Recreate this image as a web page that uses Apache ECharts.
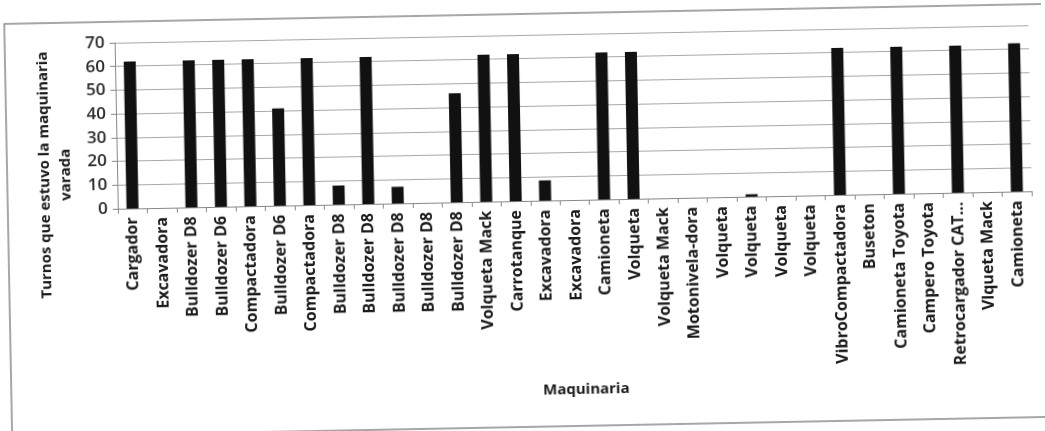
<!DOCTYPE html>
<html>
<head>
<meta charset="utf-8">
<script src="https://cdn.jsdelivr.net/npm/echarts@6/dist/echarts.min.js"></script>
<style>
html,body{margin:0;padding:0;background:#fff;overflow:hidden;}
#chart{width:1045px;height:431px;transform:rotate(-1.1deg);transform-origin:522px 215px;}
</style>
</head>
<body>
<div id="chart"></div>
<script>
const categories = [
  'Cargador','Excavadora','Bulldozer D8','Bulldozer D6','Compactadora','Bulldozer D6',
  'Compactadora','Bulldozer D8','Bulldozer D8','Bulldozer D8','Bulldozer D8','Bulldozer D8',
  'Volqueta Mack','Carrotanque','Excavadora','Excavadora','Camioneta','Volqueta',
  'Volqueta Mack','Motonivela-dora','Volqueta','Volqueta','Volqueta','Volqueta',
  'VibroCompactadora','Buseton','Camioneta Toyota','Campero Toyota','Retrocargador CAT…',
  'Vlqueta Mack','Camioneta'
];
const turnos = [
  62, 0, 62, 62, 62, 41,
  62, 8, 62, 7, 0, 46,
  62, 62, 8.5, 0, 62, 62,
  0, 0, 0, 1, 0, 0,
  62, 0, 62, 0, 62,
  0, 62.5
];
const yTitle = 'Turnos que estuvo la maquinaria\nvarada';
const xTitle = 'Maquinaria';

const chart = echarts.init(document.getElementById('chart'), null, {renderer:'canvas'});
chart.setOption({
  backgroundColor: '#ffffff',
  animation: false,
  grid: {left: 118, right: 13, top: 35, bottom: 230, containLabel: false},
  xAxis: {
    type: 'category',
    data: categories,
    axisLine: {show: true, lineStyle: {color: '#888', width: 1}},
    axisTick: {show: true, alignWithLabel: false, length: 5, lineStyle: {color: '#888'}},
    axisLabel: {
      interval: 0, rotate: 90, margin: 9,
      fontFamily: '"Open Sans", sans-serif', fontWeight: 'bold', fontSize: 16, color: '#1a1a1a'
    }
  },
  yAxis: {
    type: 'value', min: 0, max: 70, interval: 10,
    axisLine: {show: true, lineStyle: {color: '#888', width: 1}},
    axisTick: {show: true, length: 5, lineStyle: {color: '#888'}},
    axisLabel: {margin: 10, fontFamily: '"Open Sans", sans-serif', fontWeight: 600, fontSize: 17, color: '#2a2a2a'},
    splitLine: {show: true, lineStyle: {color: '#a8a8a8', width: 1}}
  },
  series: [{
    type: 'bar',
    data: turnos,
    barWidth: 12,
    itemStyle: {color: '#111111'}
  }],
  graphic: [
    {type: 'rect', silent: true, shape: {x: 8, y: 14, width: 1045, height: 413},
     style: {fill: 'none', stroke: '#8a8a8a', lineWidth: 1.5}},
    {type: 'text', x: 56, y: 166, rotation: Math.PI / 2,
     style: {text: yTitle, fontFamily: '"Open Sans", sans-serif', fontWeight: 'bold', fontSize: 15,
             lineHeight: 21, fill: '#1a1a1a', align: 'center', verticalAlign: 'middle',
             textAlign: 'center', textVerticalAlign: 'middle'}},
    {type: 'text', x: 583, y: 391,
     style: {text: xTitle, fontFamily: '"Open Sans", sans-serif', fontWeight: 'bold', fontSize: 15,
             fill: '#1a1a1a', align: 'center', verticalAlign: 'middle',
             textAlign: 'center', textVerticalAlign: 'middle'}}
  ]
});
</script>
</body>
</html>
